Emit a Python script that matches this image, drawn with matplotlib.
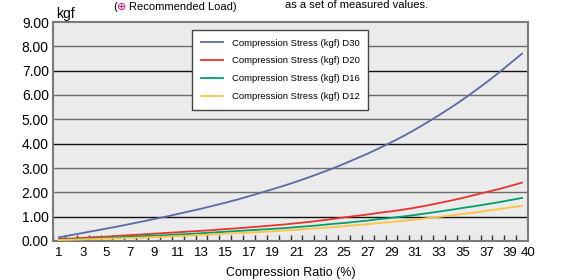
import numpy as np
import matplotlib
matplotlib.use("Agg")
import matplotlib.pyplot as plt

# ── Data ──────────────────────────────────────────────────────────────────────

RATIO = list(range(1, 41))

D30 = [0.15, 0.24, 0.33, 0.42, 0.51, 0.60, 0.70, 0.80, 0.90, 1.00,
       1.11, 1.22, 1.33, 1.45, 1.57, 1.70, 1.84, 1.98, 2.13, 2.28,
       2.44, 2.61, 2.79, 2.97, 3.17, 3.38, 3.59, 3.82, 4.06, 4.31,
       4.58, 4.87, 5.17, 5.48, 5.81, 6.16, 6.52, 6.90, 7.30, 7.70]

D20 = [0.08, 0.10, 0.13, 0.16, 0.18, 0.21, 0.24, 0.27, 0.30, 0.33,
       0.36, 0.39, 0.42, 0.45, 0.49, 0.52, 0.56, 0.60, 0.64, 0.68,
       0.73, 0.78, 0.84, 0.90, 0.97, 1.03, 1.09, 1.16, 1.22, 1.29,
       1.37, 1.46, 1.56, 1.66, 1.77, 1.89, 2.01, 2.13, 2.26, 2.40]

D16 = [0.05, 0.07, 0.09, 0.11, 0.13, 0.15, 0.17, 0.20, 0.22, 0.24,
       0.27, 0.29, 0.32, 0.35, 0.38, 0.41, 0.44, 0.47, 0.50, 0.53,
       0.57, 0.61, 0.65, 0.70, 0.74, 0.79, 0.84, 0.90, 0.95, 1.01,
       1.07, 1.14, 1.21, 1.28, 1.36, 1.43, 1.51, 1.59, 1.68, 1.77]

D12 = [0.04, 0.05, 0.07, 0.08, 0.10, 0.11, 0.13, 0.14, 0.16, 0.18,
       0.20, 0.22, 0.25, 0.27, 0.30, 0.32, 0.35, 0.37, 0.40, 0.43,
       0.46, 0.50, 0.53, 0.57, 0.61, 0.65, 0.69, 0.74, 0.78, 0.83,
       0.88, 0.94, 0.99, 1.05, 1.11, 1.17, 1.24, 1.31, 1.38, 1.45]

SERIES = [
    ("Compression Stress (kgf) D30", D30, "#5a6aa4"),
    ("Compression Stress (kgf) D20", D20, "#e8352b"),
    ("Compression Stress (kgf) D16", D16, "#00a06a"),
    ("Compression Stress (kgf) D12", D12, "#ffc23f"),
]

Y_TICKS = [0, 1, 2, 3, 4, 5, 6, 7, 8, 9]
X_LABELS = [str(v) for v in range(1, 40, 2)]

# ── Style ─────────────────────────────────────────────────────────────────────

plt.rcParams["font.family"] = ["Liberation Sans", "DejaVu Sans"]

# ── Plot ──────────────────────────────────────────────────────────────────────

fig = plt.figure(figsize=(5.65, 2.80), dpi=100)
W, H = 565, 280
ax = fig.add_axes([53 / W, 1 - 241 / H, (528 - 53) / W, (241 - 22) / H])
ax.set_facecolor("#ebebeb")

# horizontal grid, a few lines darker than the others
for v in Y_TICKS[1:-1]:
    col = "#111111" if v in (1, 4, 7) else "#6e6e6e"
    ax.axhline(v, color=col, lw=1.0, zorder=1)

for name, vals, col in SERIES:
    ax.plot(RATIO, vals, color=col, lw=1.3, label=name, zorder=3)

ax.set_xlim(0.5, 40.5)
ax.set_ylim(0, 9)

for s in ax.spines.values():
    s.set_color("#7a7a7a")
    s.set_linewidth(1.5)

ax.set_yticks(Y_TICKS)
ax.set_yticklabels([f"{v:.2f}" for v in Y_TICKS], fontsize=10)
ax.tick_params(axis="y", length=0, pad=3)

# category boundary ticks, pointing inward
ax.set_xticks([v + 0.5 for v in range(0, 40)], minor=True)
ax.tick_params(axis="x", which="minor", direction="in", length=4,
               width=1, color="#333333")
ax.set_xticks(list(range(1, 40, 2)) + [40.5])
ax.set_xticklabels(X_LABELS + ["40"], fontsize=9.5)
ax.tick_params(axis="x", which="major", length=0, pad=4)

ax.set_xlabel("Compression Ratio (%)", fontsize=9, labelpad=6)

fig.text(56 / W, 1 - 18 / H, "kgf", fontsize=10, ha="left", va="baseline")

leg = ax.legend(loc="upper left", bbox_to_anchor=(192 / W, 1 - 30 / H),
                bbox_transform=fig.transFigure, prop={"size": 6.8},
                frameon=True, fancybox=False, borderpad=0.9, labelspacing=0.95,
                handlelength=2.4, handletextpad=0.9, borderaxespad=0)
leg.get_frame().set_edgecolor("#444444")
leg.get_frame().set_linewidth(1.0)
leg.get_frame().set_facecolor("white")
leg.get_frame().set_alpha(1)

# text from the surrounding page
fig.text(113 / W, 1 - 10 / H, "(", fontsize=8, va="baseline")
fig.text(122 / W, 1 - 10 / H, "\u2295", fontsize=8, color="#e4007f",
         family=["DejaVu Sans"], ha="center", va="baseline")
fig.text(129 / W, 1 - 10 / H, "Recommended Load)", fontsize=8,
         va="baseline")
fig.text(285 / W, 1 - 8 / H, "as a set of measured values.", fontsize=8,
         va="baseline")

fig.savefig("out.png", dpi=100)
